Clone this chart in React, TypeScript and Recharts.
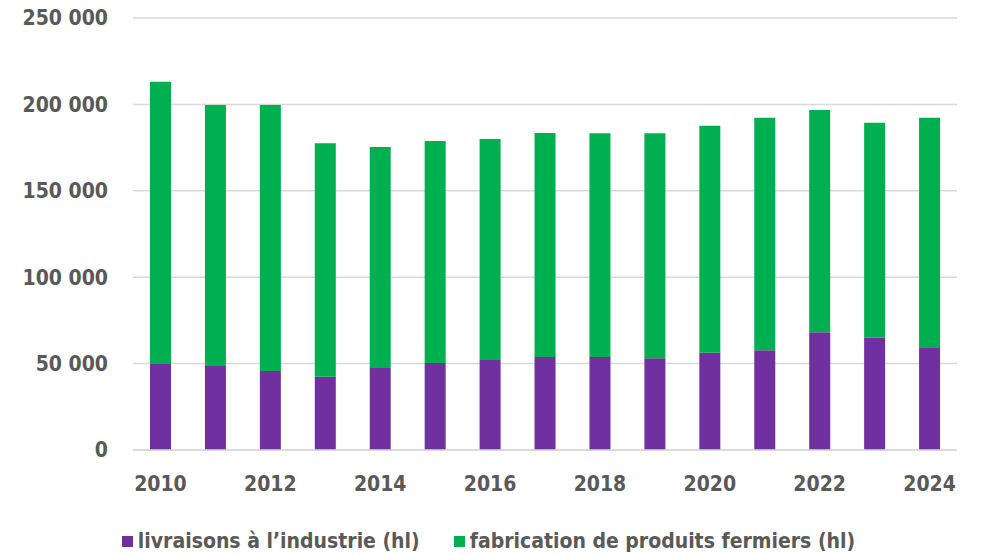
import { BarChart, Bar, XAxis, YAxis, CartesianGrid, Legend } from "recharts";

const years = [
  "2010", "2011", "2012", "2013", "2014", "2015", "2016", "2017",
  "2018", "2019", "2020", "2021", "2022", "2023", "2024",
];

// livraisons à l'industrie (hl)
const livraisons = [
  50200, 48600, 45700, 42400, 47500, 50300, 52100, 53800,
  53800, 53100, 56300, 57700, 68100, 65000, 59000,
];

// fabrication de produits fermiers (hl)
const fabrication = [
  162900, 151000, 153900, 135100, 127800, 128500, 127900, 129600,
  129500, 130200, 131400, 134600, 128700, 124400, 133300,
];

const yTicks = [0, 50000, 100000, 150000, 200000, 250000];

const PURPLE = "#7030A0";
const GREEN = "#00B050";
const TEXT = "#595959";
const FONT = "'DejaVu Sans Condensed', 'DejaVu Sans', sans-serif";

const data = years.map((year, i) => ({
  year,
  livraisons: livraisons[i],
  fabrication: fabrication[i],
}));

function formatThousands(v: number): string {
  return String(v).replace(/\B(?=(\d{3})+(?!\d))/g, " ");
}

const legendItems = [
  { label: "livraisons à l’industrie (hl)", color: PURPLE },
  { label: "fabrication de produits fermiers (hl)", color: GREEN },
];

function ChartLegend() {
  return (
    <div
      style={{
        display: "flex",
        justifyContent: "center",
        gap: 34,
        fontFamily: FONT,
        fontSize: 21,
        fontWeight: "bold",
        color: TEXT,
        paddingLeft: 20,
      }}
    >
      {legendItems.map((item) => (
        <div key={item.label} style={{ display: "flex", alignItems: "center" }}>
          <span
            style={{
              display: "inline-block",
              width: 11,
              height: 11,
              background: item.color,
              marginRight: 5,
            }}
          />
          {item.label}
        </div>
      ))}
    </div>
  );
}

export default function App() {
  return (
    <div style={{ position: "absolute", left: 0, top: 0, background: "#fff" }}>
      <BarChart
        width={984}
        height={555}
        data={data}
        barSize={21}
        margin={{ top: 18, right: 27, bottom: 2, left: 0 }}
      >
        <CartesianGrid vertical={false} stroke="#d9d9d9" strokeWidth={1.5} />
        <XAxis
          dataKey="year"
          interval={1}
          tickLine={false}
          axisLine={{ stroke: "#d9d9d9", strokeWidth: 1.5 }}
          tickSize={0}
          tickMargin={26}
          height={79}
          tick={{ fill: TEXT, fontSize: 21, fontWeight: "bold", fontFamily: FONT }}
        />
        <YAxis
          width={133}
          domain={[0, 250000]}
          ticks={yTicks}
          tickFormatter={formatThousands}
          tickLine={false}
          axisLine={false}
          tickSize={0}
          tickMargin={25}
          tick={{ fill: TEXT, fontSize: 21, fontWeight: "bold", fontFamily: FONT }}
        />
        <Legend verticalAlign="bottom" content={() => <ChartLegend />} />
        <Bar dataKey="livraisons" stackId="a" fill={PURPLE} isAnimationActive={false} />
        <Bar dataKey="fabrication" stackId="a" fill={GREEN} isAnimationActive={false} />
      </BarChart>
    </div>
  );
}
